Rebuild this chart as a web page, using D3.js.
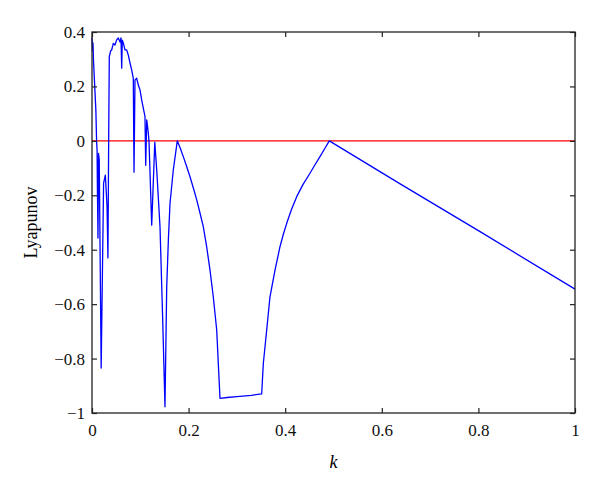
<!DOCTYPE html>
<html>
<head>
<meta charset="utf-8">
<script src="https://cdn.jsdelivr.net/npm/d3@7"></script>
<style>
    body { margin: 0; background: #fff; }
    svg text { font-family: "Liberation Serif", "Times New Roman", Times, serif !important; }
</style>
</head>
<body>
<div id="chart"></div>
<script>
// values
var kValues = [0, 0.001, 0.002, 0.003, 0.005, 0.008, 0.0095, 0.0105, 0.0114, 0.0124, 0.0135, 0.015, 0.019, 0.024, 0.0276, 0.0311, 0.033, 0.0345, 0.0358,
    0.0385, 0.0408, 0.0441, 0.0476, 0.0511, 0.0545, 0.058, 0.060, 0.0615, 0.0627, 0.0648, 0.0683, 0.0718, 0.0752, 0.0787, 0.0822, 0.0855, 0.087, 0.089,
    0.0925, 0.0959, 0.0994, 0.1029, 0.1062, 0.1097, 0.1112, 0.1133, 0.1159, 0.118, 0.1236, 0.130, 0.134, 0.1408, 0.1464, 0.1511, 0.1547, 0.1582, 0.1615,
    0.1683, 0.1766, 0.183, 0.189, 0.196, 0.2029, 0.21, 0.2168, 0.2236, 0.2304, 0.2374, 0.2443, 0.2511, 0.2582, 0.2615, 0.265, 0.28, 0.30, 0.33, 0.3513,
    0.3547, 0.3617, 0.3685, 0.3789, 0.3892, 0.396, 0.4031, 0.413, 0.4238, 0.437, 0.4513, 0.462, 0.472, 0.482, 0.4913, 0.638, 0.8, 1];
var lyapunov = [0.38, 0.33, 0.36, 0.30, 0.224, 0.113, 0.0, -0.034, -0.205, -0.357, -0.046, -0.07, -0.835, -0.155, -0.126, -0.24, -0.43, 0.0, 0.31,
    0.33, 0.334, 0.358, 0.352, 0.371, 0.378, 0.363, 0.378, 0.267, 0.37, 0.36, 0.334, 0.334, 0.315, 0.286, 0.26, 0.23, -0.115, 0.224,
    0.23, 0.205, 0.187, 0.15, 0.12, 0.09, -0.09, 0.077, 0.04, 0.0, -0.31, -0.005, -0.107, -0.316, -0.66, -0.977, -0.536, -0.36, -0.23,
    -0.107, 0.0, -0.028, -0.058, -0.094, -0.132, -0.174, -0.217, -0.265, -0.315, -0.389, -0.475, -0.573, -0.695, -0.818, -0.946, -0.943, -0.94, -0.935, -0.93,
    -0.818, -0.695, -0.573, -0.475, -0.389, -0.344, -0.303, -0.252, -0.205, -0.16, -0.119, -0.087, -0.058, -0.028, 0.0, -0.158, -0.33, -0.545];
var xTicks = [0, 0.2, 0.4, 0.6, 0.8, 1];
var yTicks = [0.4, 0.2, 0, -0.2, -0.4, -0.6, -0.8, -1];
var zeroLevel = [0];

var serif = "Liberation Serif";

var margin = {top: 32, right: 25, bottom: 77, left: 92},
    width = 600 - margin.left - margin.right,
    height = 490 - margin.top - margin.bottom;

var svg = d3.select("#chart").append("svg")
    .attr("width", 600)
    .attr("height", 490)
    .append("g")
    .attr("transform", "translate(" + margin.left + "," + margin.top + ")");

var x = d3.scaleLinear().domain([0, 1]).range([0, width]);
var y = d3.scaleLinear().domain([-1, 0.4]).range([height, 0]);

var fmt = function(d) { return d < 0 ? "\u2212" + d3.format("")(-d) : d3.format("")(d); };

// red zero line
svg.selectAll(".zero")
    .data(zeroLevel)
    .enter().append("line")
    .attr("x1", x(0)).attr("x2", x(1))
    .attr("y1", function(d) { return y(d); })
    .attr("y2", function(d) { return y(d); })
    .attr("stroke", "#ff0000")
    .attr("stroke-width", 1.3);

var points = kValues.map(function(k, i) { return [k, lyapunov[i]]; });
var line = d3.line()
    .x(function(d) { return x(d[0]); })
    .y(function(d) { return y(d[1]); });

svg.append("path")
    .datum(points)
    .attr("d", line)
    .attr("fill", "none")
    .attr("stroke", "#0000ff")
    .attr("stroke-width", 1.3)
    .attr("stroke-linejoin", "round");

// axes, MATLAB style box with inward ticks
function styleAxis(g) {
    g.attr("font-family", serif).attr("font-size", 17);
    g.select(".domain").remove();
    g.selectAll(".tick line").attr("stroke", "#222").attr("stroke-width", 1.2);
    g.selectAll(".tick text").attr("fill", "#111");
}

svg.append("g")
    .attr("transform", "translate(0," + height + ")")
    .call(d3.axisBottom(x).tickValues(xTicks).tickSize(-5).tickPadding(11).tickFormat(fmt))
    .call(styleAxis);
svg.append("g")
    .call(d3.axisTop(x).tickValues(xTicks).tickSize(-5).tickFormat(""))
    .call(styleAxis);
svg.append("g")
    .call(d3.axisLeft(y).tickValues(yTicks).tickSize(-5).tickPadding(7).tickFormat(fmt))
    .call(styleAxis);
svg.append("g")
    .attr("transform", "translate(" + width + ",0)")
    .call(d3.axisRight(y).tickValues(yTicks).tickSize(-5).tickFormat(""))
    .call(styleAxis);

svg.append("rect")
    .attr("width", width)
    .attr("height", height)
    .attr("fill", "none")
    .attr("stroke", "#222")
    .attr("stroke-width", 1.3);

svg.append("text")
    .attr("x", width / 2)
    .attr("y", height + 55)
    .attr("text-anchor", "middle")
    .attr("font-size", 18)
    .attr("font-style", "italic")
    .text("k");

svg.append("text")
    .attr("transform", "rotate(-90)")
    .attr("x", -height / 2)
    .attr("y", -55)
    .attr("text-anchor", "middle")
    .attr("font-size", 18)
    .text("Lyapunov");
</script>
</body>
</html>
